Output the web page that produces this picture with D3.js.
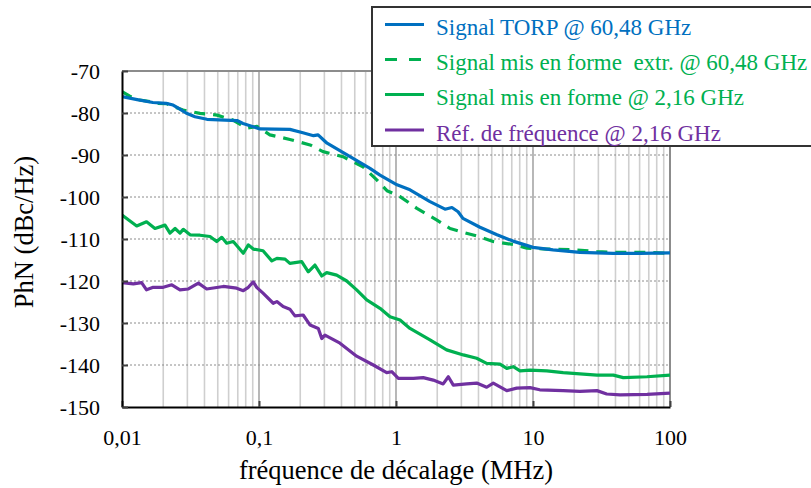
<!DOCTYPE html>
<html>
<head>
<meta charset="utf-8">
<script src="https://cdn.jsdelivr.net/npm/d3@7"></script>
<style>
  body { margin: 0; background: #fff; }
  svg { display: block; font-family: "Liberation Serif", "Times New Roman", serif; }
</style>
</head>
<body>
<svg id="chart" width="811" height="488"></svg>
<script>
// Offset frequency (MHz) and phase noise (dBc/Hz) of each measured trace
const torpFreq = [0.01,0.0129,0.0168,0.0210,0.0236,0.0256,0.0293,0.0341,0.0417,0.0691,0.0764,0.1017,0.168,0.209,0.25,0.27,0.30,0.314,0.462,0.646,0.764,1.017,1.265,1.77,2.28,2.56,2.84,3.08,4.10,5.46,7.14,10,14.0,22.0,38.4,60.4,100];
const torpPhn  = [-76.1,-76.8,-77.5,-77.7,-78.1,-78.8,-80.0,-80.9,-81.5,-81.8,-82.5,-83.8,-83.9,-84.7,-85.4,-85.2,-86.6,-87.2,-90.4,-93.2,-94.8,-97.1,-98.3,-101.1,-102.9,-102.5,-103.5,-105.1,-107.2,-109.0,-110.5,-112.0,-112.6,-113.2,-113.4,-113.4,-113.3];

const extrFreq = [0.01,0.0114,0.0135,0.0160,0.0180,0.0213,0.0240,0.0279,0.0371,0.0494,0.0646,0.0817,0.0967,0.120,0.168,0.236,0.293,0.410,0.574,0.727,0.859,1.07,1.42,1.99,2.48,2.93,3.90,5.11,7.14,9.04,12.6,18.6,29.3,43.2,67.9,100];
const extrPhn  = [-74.9,-76.0,-76.9,-77.3,-77.7,-77.8,-78.5,-79.3,-80.1,-80.5,-81.7,-83.6,-83.2,-85.2,-86.3,-87.6,-89.2,-90.4,-92.8,-96.0,-98.5,-99.9,-102.7,-105.5,-107.5,-108.2,-109.3,-110.6,-111.3,-112.2,-112.4,-112.5,-113.0,-113.2,-113.2,-113.4];

const shapedFreq = [0.01,0.0128,0.0151,0.0174,0.0206,0.0224,0.0244,0.0265,0.0280,0.0314,0.0371,0.0439,0.0491,0.0535,0.0581,0.0649,0.0768,0.0836,0.0908,0.107,0.124,0.135,0.155,0.168,0.205,0.229,0.256,0.287,0.312,0.369,0.437,0.516,0.611,0.764,0.904,1.07,1.265,1.77,2.34,3.10,3.88,4.59,5.74,6.43,7.18,8.04,9.51,12.6,16.6,22.0,29.3,38.6,45.6,67.9,100];
const shapedPhn  = [-104.3,-106.9,-105.9,-107.5,-106.7,-108.6,-107.5,-108.6,-107.7,-109.0,-109.1,-109.4,-110.6,-109.6,-111.0,-110.6,-113.4,-111.4,-112.4,-112.8,-115.2,-114.6,-114.8,-115.8,-115.4,-117.8,-116.2,-118.8,-118.0,-118.6,-120.0,-122.1,-124.5,-126.5,-128.5,-129.3,-131.3,-134.0,-136.4,-137.6,-138.4,-139.6,-139.8,-140.8,-140.4,-141.4,-141.2,-141.4,-141.8,-142.1,-142.4,-142.4,-143.0,-142.8,-142.4];

const refFreq = [0.01,0.0121,0.0139,0.0151,0.0169,0.0200,0.0231,0.0265,0.0305,0.0361,0.0415,0.0549,0.0687,0.0768,0.0836,0.0908,0.0962,0.107,0.127,0.135,0.150,0.168,0.183,0.210,0.236,0.271,0.287,0.303,0.390,0.516,0.683,0.855,0.931,1.04,1.34,1.58,1.87,2.21,2.41,2.62,3.28,3.88,4.59,5.13,6.43,7.60,9.51,11.2,16.6,22.0,29.3,34.5,43.2,67.9,100];
const refPhn  = [-120.4,-120.7,-120.4,-122.1,-121.5,-121.5,-120.9,-122.1,-121.9,-120.5,-121.9,-121.3,-121.7,-122.3,-121.5,-120.2,-121.5,-122.9,-125.3,-124.9,-126.1,-126.7,-128.3,-128.1,-130.5,-131.3,-133.7,-132.9,-134.8,-137.9,-140.0,-141.8,-141.6,-143.2,-143.2,-143.0,-143.6,-144.5,-142.8,-144.8,-144.5,-144.3,-145.3,-144.3,-146.1,-145.5,-145.4,-145.9,-146.1,-146.3,-146.1,-146.9,-147.1,-147.0,-146.7];

const seriesNames = ["Signal TORP @ 60,48 GHz", "Signal mis en forme  extr. @ 60,48 GHz", "Signal mis en forme @ 2,16 GHz", "Réf. de fréquence @ 2,16 GHz"];
const seriesColors = ["#0070C0", "#00B050", "#00B050", "#7030A0"];
const seriesDash = [null, "11,8", null, null];

const xTicks = [0.01, 0.1, 1, 10, 100];
const xTickLabels = ["0,01", "0,1", "1", "10", "100"];
const yTicks = [-70, -80, -90, -100, -110, -120, -130, -140, -150];
const yTickLabels = ["-70", "-80", "-90", "-100", "-110", "-120", "-130", "-140", "-150"];
const xTitle = "fréquence de décalage (MHz)";
const yTitle = "PhN (dBc/Hz)";

const series = [
  { freq: torpFreq, phn: torpPhn },
  { freq: extrFreq, phn: extrPhn },
  { freq: shapedFreq, phn: shapedPhn },
  { freq: refFreq, phn: refPhn }
].map((s, i) => ({
  name: seriesNames[i], color: seriesColors[i], dash: seriesDash[i],
  points: s.freq.map((f, j) => [f, s.phn[j]])
}));

const svg = d3.select("#chart");
const plot = { left: 122, right: 670, top: 71, bottom: 407 };

const x = d3.scaleLog().domain([0.01, 100]).range([plot.left, plot.right]);
const y = d3.scaleLinear().domain([-150, -70]).range([plot.bottom, plot.top]);

// Vertical log grid: light minor lines, darker decade lines
const allTicks = x.ticks();
const decades = allTicks.filter(v => Math.abs(Math.log10(v) - Math.round(Math.log10(v))) < 1e-9);
const minors = allTicks.filter(v => !decades.includes(v));
const grid = svg.append("g");
grid.selectAll("line.minor").data(minors).join("line")
  .attr("class", "minor")
  .attr("x1", d => x(d)).attr("x2", d => x(d))
  .attr("y1", plot.top).attr("y2", plot.bottom)
  .attr("stroke", "#cfcfcf").attr("stroke-width", 1.6);
grid.selectAll("line.major").data(decades.filter(d => d > 0.01 && d < 100)).join("line")
  .attr("class", "major")
  .attr("x1", d => x(d)).attr("x2", d => x(d))
  .attr("y1", plot.top).attr("y2", plot.bottom)
  .attr("stroke", "#a6a6a6").attr("stroke-width", 1.6);

// Horizontal dotted grid
grid.selectAll("line.h").data(yTicks.filter(v => v > -150 && v < -70)).join("line")
  .attr("class", "h")
  .attr("x1", plot.left).attr("x2", plot.right)
  .attr("y1", d => y(d)).attr("y2", d => y(d))
  .attr("stroke", "#8c8c8c").attr("stroke-width", 1).attr("stroke-dasharray", "2,2");

// Top and right frame
svg.append("path")
  .attr("d", `M${plot.left},${plot.top}H${plot.right}V${plot.bottom}`)
  .attr("fill", "none").attr("stroke", "#8c8c8c").attr("stroke-width", 2);

// Traces
svg.append("clipPath").attr("id", "clip").append("rect")
  .attr("x", plot.left).attr("y", plot.top - 4)
  .attr("width", plot.right - plot.left).attr("height", plot.bottom - plot.top + 4);

const line = d3.line().x(d => x(d[0])).y(d => y(d[1]));
const traces = svg.append("g").attr("clip-path", "url(#clip)");
// draw the reference first so the TORP trace stays on top
[3, 2, 1, 0].forEach(i => {
  const s = series[i];
  traces.append("path")
    .datum(s.points)
    .attr("d", line)
    .attr("fill", "none")
    .attr("stroke", s.color)
    .attr("stroke-width", 3.2)
    .attr("stroke-linejoin", "round")
    .attr("stroke-dasharray", s.dash);
});

// Axes
const xAxis = d3.axisBottom(x).tickValues(xTicks)
  .tickFormat((d, i) => xTickLabels[i]).tickSizeInner(-6).tickSizeOuter(0).tickPadding(22);
const gx = svg.append("g").attr("transform", `translate(0,${plot.bottom})`).call(xAxis);
gx.select(".domain").attr("stroke", "#000").attr("stroke-width", 2);
gx.selectAll(".tick line").attr("stroke", "#404040").attr("stroke-width", 2);
gx.selectAll("text").attr("font-size", 22).attr("font-family", "Liberation Serif").attr("fill", "#000");

const yAxis = d3.axisLeft(y).tickValues(yTicks)
  .tickFormat((d, i) => yTickLabels[i])
  .tickSizeInner(-6).tickSizeOuter(0).tickPadding(22);
const gy = svg.append("g").attr("transform", `translate(${plot.left},0)`).call(yAxis);
gy.select(".domain").attr("stroke", "#000").attr("stroke-width", 2);
gy.selectAll(".tick line").attr("stroke", "#404040").attr("stroke-width", 2);
gy.selectAll("text").attr("font-size", 22).attr("font-family", "Liberation Serif").attr("fill", "#000");

// Axis titles
svg.append("text")
  .attr("x", (plot.left + plot.right) / 2).attr("y", 479)
  .attr("text-anchor", "middle").attr("font-size", 26.5).attr("fill", "#000")
  .text(xTitle);
svg.append("text")
  .attr("transform", "translate(33,232) rotate(-90)")
  .attr("text-anchor", "middle").attr("font-size", 26.5).attr("fill", "#000")
  .text(yTitle);

// Legend
const legend = svg.append("g");
legend.append("rect")
  .attr("x", 372).attr("y", 7).attr("width", 470).attr("height", 139)
  .attr("fill", "#fff").attr("stroke", "#333").attr("stroke-width", 2);
const rowY = [24.5, 59.5, 94.5, 130];
series.forEach((s, i) => {
  legend.append("line")
    .attr("x1", 385).attr("x2", 424).attr("y1", rowY[i]).attr("y2", rowY[i])
    .attr("stroke", s.color).attr("stroke-width", 3)
    .attr("stroke-dasharray", s.dash ? "12,12" : null);
  legend.append("text")
    .attr("x", 436).attr("y", rowY[i] + 10.5)
    .attr("font-size", 23).attr("fill", s.color)
    .attr("xml:space", "preserve").style("white-space", "pre")
    .text(s.name);
});
</script>
</body>
</html>
